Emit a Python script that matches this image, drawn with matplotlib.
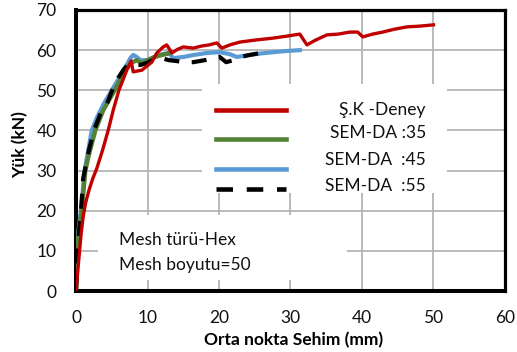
import matplotlib.pyplot as plt
from matplotlib.patches import Rectangle
from matplotlib.lines import Line2D

plt.rcParams['font.family'] = ['Lato', 'DejaVu Sans']

# Ş.K -Deney (experiment)
deney_x = [0, 0.1, 0.25, 0.45, 0.7, 1.0, 1.35, 1.8, 2.3, 2.9, 3.7, 4.5, 5.2,
           6.0, 7.1, 7.7, 8.0, 9.2, 10.6, 11.3, 12.2, 12.7, 13.4, 14.2, 15.0,
           16.4, 17.5, 18.6, 19.7, 20.4, 21.5, 22.9, 25.0, 27.6, 29.5, 31.3,
           32.3, 33.5, 35.1, 36.7, 38.3, 39.4, 40.1, 41.5, 42.9, 44.5, 46.3,
           48.2, 50.0]
deney_y = [0, 2, 5, 9, 14, 18.5, 22, 25, 27.8, 30.5, 35, 40, 45,
           50, 55, 57.3, 54.6, 55.0, 57.0, 59.3, 60.8, 61.3, 59.3, 60.2, 60.8,
           60.5, 61.0, 61.3, 61.8, 60.5, 61.3, 62.0, 62.5, 63.0, 63.5, 64.0,
           61.3, 62.5, 63.8, 64.0, 64.5, 64.5, 63.3, 64.0, 64.5, 65.2, 65.8,
           66.0, 66.3]

# SEM-DA :35
da35_x = [0, 0.2, 0.4, 0.8, 1.3, 1.8, 2.7, 3.8, 5.4, 6.9, 7.7, 8.5, 9.2,
          10.0, 11.0, 12.0, 13.0]
da35_y = [0, 10, 15, 20, 30, 34, 40, 45, 50, 55, 56.8, 57.5, 56.8,
          57.5, 58.3, 58.8, 59.2]

# SEM-DA :45
da45_x = [0, 0.15, 0.35, 0.7, 1.2, 1.8, 2.2, 3.0, 4.0, 5.0, 6.0, 7.0, 7.6,
          8.0, 8.5, 9.0, 10.0, 11.0, 12.0, 13.0, 13.6, 15.0, 16.5, 18.3,
          20.1, 21.5, 22.5, 24.3, 26.0, 27.6, 29.5, 31.3]
da45_y = [0, 10, 15, 20, 30, 36, 40, 43.5, 47, 50, 53, 56, 58,
          58.8, 58.3, 57.5, 57.5, 58.3, 59, 59.3, 58.0, 58.3, 58.8, 59.3,
          59.5, 59.0, 58.3, 58.8, 59.2, 59.5, 59.8, 60.0]

# SEM-DA :55
da55_x = [0, 0.3, 0.7, 1.0, 1.8, 2.5, 3.5, 4.3, 5.5, 6.6, 7.3, 8.0, 9.0,
          9.9, 11.0, 12.0, 13.0, 14.0, 15.0, 16.4, 18.0, 19.3, 20.1, 21.0,
          22.0, 23.0, 24.3, 25.5, 27.1]
da55_y = [0, 12, 20, 28, 35, 40, 44.5, 46.5, 52, 55, 56.5, 56.5, 56.3,
          56.8, 57.8, 58.0, 57.5, 57.3, 57.0, 57.0, 57.5, 58.0, 58.3, 57.0,
          57.5, 58.3, 58.8, 59.2, 59.5]

labels = ['Ş.K -Deney', 'SEM-DA :35', 'SEM-DA  :45', 'SEM-DA  :55']
colors = ['#C00000', '#548235', '#5B9BD5', 'black']
info_lines = ['Mesh türü-Hex', 'Mesh boyutu=50']

fig = plt.figure(figsize=(5.17, 3.52), dpi=100)
ax = fig.add_axes([76 / 517, 61 / 352, 429 / 517, 281 / 352])

ax.plot(da45_x, da45_y, color=colors[2], lw=3.0, zorder=3)
ax.plot(da35_x, da35_y, color=colors[1], lw=3.2, zorder=4)
ax.plot(da55_x, da55_y, color=colors[3], lw=3.0, dashes=(3.6, 3.0), zorder=5)
ax.plot(deney_x, deney_y, color=colors[0], lw=2.4, zorder=6)

ax.set_xlim(0, 60)
ax.set_ylim(0, 70)
ax.set_xticks(range(0, 61, 10))
ax.set_yticks(range(0, 71, 10))
ax.set_axisbelow(True)
ax.grid(True, color='#b4b4b4', lw=1.3)
ax.tick_params(length=0, pad=14, labelsize=12.5, colors='#111111')

for side in ['left', 'bottom']:
    ax.spines[side].set_linewidth(2.9)
for side in ['top', 'right']:
    ax.spines[side].set_linewidth(2.3)

ax.set_xlabel('Orta nokta Sehim (mm)', fontsize=12.5, fontweight='bold')
ax.set_ylabel('Yük (kN)', fontsize=12.5, fontweight='bold')
ax.xaxis.set_label_coords(0.506, -0.174)
ax.xaxis.label.set_verticalalignment('center')
ax.yaxis.set_label_coords(-0.131, 0.52)
ax.yaxis.label.set_verticalalignment('center')


def ax_xy(px, py):
    return (px - 76) / 429, (291 - py) / 281


# legend box (right aligned labels, drawn by hand)
x0, y0 = ax_xy(202, 193)
x1, y1 = ax_xy(447, 84)
ax.add_patch(Rectangle((x0, y0), x1 - x0, y1 - y0, transform=ax.transAxes,
                       facecolor='white', edgecolor='none', zorder=1))
handle_rows = [110, 139, 169, 189]
text_rows = [110, 133, 160, 186]
hx0, _ = ax_xy(216, 0)
hx1, _ = ax_xy(286, 0)
tx, _ = ax_xy(426, 0)
for i, lab in enumerate(labels):
    _, hy = ax_xy(0, handle_rows[i])
    kw = dict(dashes=(3.6, 3.0)) if i == 3 else {}
    ax.add_line(Line2D([hx0, hx1], [hy, hy], transform=ax.transAxes,
                       color=colors[i], lw=3.3, zorder=7, **kw))
    _, ty = ax_xy(0, text_rows[i])
    ax.text(tx, ty, lab, transform=ax.transAxes, ha='right', va='center',
            fontsize=12.5, color='#111111', zorder=7)

# mesh info box
x0, y0 = ax_xy(98, 280)
x1, y1 = ax_xy(347, 215)
ax.add_patch(Rectangle((x0, y0), x1 - x0, y1 - y0, transform=ax.transAxes,
                       facecolor='white', edgecolor='none', zorder=1))
mx, _ = ax_xy(119, 0)
for line, row in zip(info_lines, [240, 265]):
    _, my = ax_xy(0, row)
    ax.text(mx, my, line, transform=ax.transAxes, ha='left', va='center',
            fontsize=12.5, color='#111111', zorder=7)

fig.savefig('out.png', dpi=100)
